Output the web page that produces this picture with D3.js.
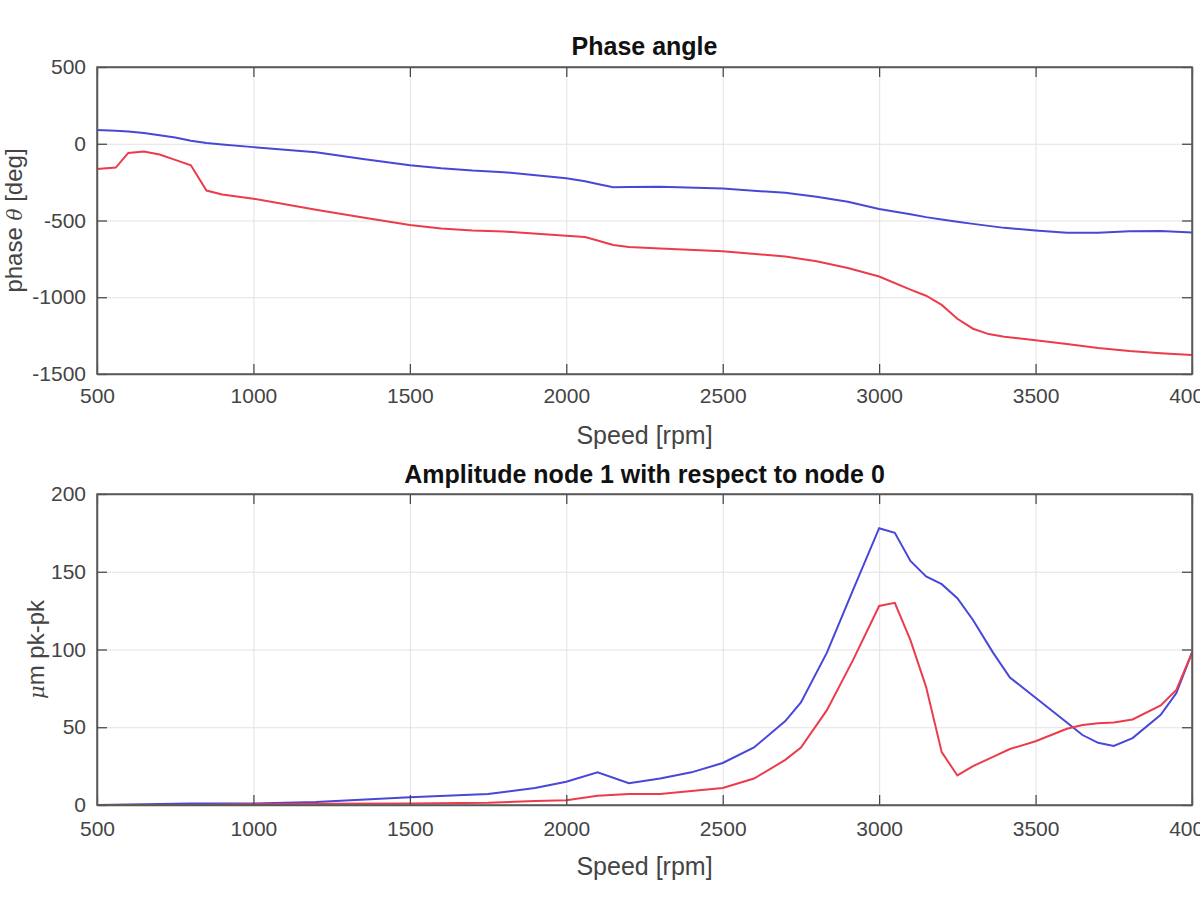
<!DOCTYPE html>
<html>
<head>
<meta charset="utf-8">
<script src="https://cdn.jsdelivr.net/npm/d3@7"></script>
<style>
  html, body { margin: 0; padding: 0; background: #fff; }
  svg { display: block; font-family: "Liberation Sans", Arial, Helvetica, sans-serif; }
  .tick text { fill: #444; font-size: 21px; }
</style>
</head>
<body>
<svg id="chart" width="1200" height="900"></svg>
<script>
// ---------- data ----------
const phaseRpm = [500, 560, 600, 650, 700, 750, 800, 850, 900, 1000, 1200, 1350, 1500, 1600, 1700, 1800, 2000, 2060, 2100, 2150, 2200, 2300, 2500, 2700, 2800, 2900, 3000, 3100, 3150, 3200, 3250, 3300, 3350, 3400, 3500, 3600, 3700, 3800, 3900, 4000];
const phaseBlue = [90, 85, 80, 70, 55, 40, 20, 5, -5, -22, -55, -100, -140, -160, -175, -185, -225, -245, -262, -284, -281, -280, -292, -320, -345, -378, -425, -460, -478, -493, -508, -522, -535, -548, -565, -580, -580, -570, -568, -578];
const phaseRed = [-165, -155, -60, -50, -70, -105, -140, -305, -330, -358, -430, -480, -530, -552, -565, -572, -600, -608, -630, -660, -672, -682, -700, -735, -765, -810, -865, -950, -990, -1050, -1140, -1205, -1240, -1258, -1280, -1305, -1330, -1350, -1365, -1377];

const ampRpm = [500, 800, 1000, 1200, 1500, 1750, 1900, 2000, 2100, 2200, 2300, 2400, 2500, 2600, 2700, 2750, 2833, 2916, 3000, 3050, 3100, 3150, 3200, 3250, 3300, 3364, 3418, 3500, 3600, 3650, 3700, 3750, 3810, 3900, 3950, 4000];
const ampBlue = [0, 1, 1, 2, 5, 7, 11, 15, 21, 14, 17, 21, 27, 37, 54, 66, 98, 138, 178, 175, 157, 147, 142, 133, 119, 98, 82, 69, 53, 45, 40, 38, 43, 58, 72, 98];
const ampRed = [0, 0, 0.5, 0.8, 1, 1.5, 2.5, 3, 6, 7, 7, 9, 11, 17, 29, 37, 61, 93, 128, 130, 106, 76, 34, 19, 25, 31, 36, 41, 49, 51.5, 52.5, 53, 55, 64, 74, 98];

const xTicks = [500, 1000, 1500, 2000, 2500, 3000, 3500, 4000];
const phaseTicks = [500, 0, -500, -1000, -1500];
const ampTicks = [0, 50, 100, 150, 200];

const BLUE = "#4848d8";
const RED = "#ec3c4c";

// ---------- drawing ----------
const svg = d3.select("#chart");
const L = 97, R = 1192;
const fmt = d => String(d);

function panel(cfg) {
  const x = d3.scaleLinear().domain([500, 4000]).range([L, R]);
  const y = d3.scaleLinear().domain(cfg.yDomain).range([cfg.bottom, cfg.top]);
  const g = svg.append("g");
  const h = cfg.bottom - cfg.top, w = R - L;

  // grid
  const grid = g.append("g");
  grid.append("g").attr("transform", `translate(0,${cfg.bottom})`)
    .call(d3.axisBottom(x).tickValues(xTicks).tickSize(-h).tickFormat(""));
  grid.append("g").attr("transform", `translate(${L},0)`)
    .call(d3.axisLeft(y).tickValues(cfg.yTicks).tickSize(-w).tickFormat(""));
  grid.selectAll(".domain").remove();
  grid.selectAll("line").attr("stroke", "#e2e2e2").attr("stroke-width", 1);

  // lines
  const line = d3.line().x((d, i) => x(cfg.rpm[i])).y(d => y(d));
  g.append("path").attr("d", line(cfg.blue)).attr("fill", "none").attr("stroke", BLUE).attr("stroke-width", 2);
  g.append("path").attr("d", line(cfg.red)).attr("fill", "none").attr("stroke", RED).attr("stroke-width", 2);

  // axes with inward ticks
  const axes = g.append("g");
  const tl = 10;
  const ax = axes.append("g").attr("transform", `translate(0,${cfg.bottom})`)
    .call(d3.axisBottom(x).tickValues(xTicks).tickSizeInner(-tl).tickSizeOuter(0).tickFormat(fmt));
  ax.selectAll("text").attr("y", cfg.xTickY).attr("dy", "0.71em");
  axes.append("g").attr("transform", `translate(0,${cfg.top})`)
    .call(d3.axisTop(x).tickValues(xTicks).tickSizeInner(-tl).tickSizeOuter(0).tickFormat(""));
  axes.append("g").attr("transform", `translate(${L},0)`)
    .call(d3.axisLeft(y).tickValues(cfg.yTicks).tickSizeInner(-tl).tickSizeOuter(0).tickPadding(11).tickFormat(fmt));
  axes.append("g").attr("transform", `translate(${R},0)`)
    .call(d3.axisRight(y).tickValues(cfg.yTicks).tickSizeInner(-tl).tickSizeOuter(0).tickFormat(""));
  axes.selectAll(".domain").attr("stroke", "#5a5a5a").attr("stroke-width", 1.5);
  axes.selectAll(".tick line").attr("stroke", "#404040").attr("stroke-width", 1.2);

  // box
  g.append("rect").attr("x", L).attr("y", cfg.top).attr("width", w).attr("height", h)
    .attr("fill", "none").attr("stroke", "#5a5a5a").attr("stroke-width", 1.5);

  // title
  g.append("text").attr("x", (L + R) / 2).attr("y", cfg.titleY)
    .attr("text-anchor", "middle").attr("font-size", 25).attr("font-weight", "bold").attr("fill", "#111")
    .text(cfg.title);
  // x label
  g.append("text").attr("x", (L + R) / 2).attr("y", cfg.bottom + 70)
    .attr("text-anchor", "middle").attr("font-size", 25).attr("fill", "#444")
    .text("Speed [rpm]");
  // y label
  const yl = g.append("text")
    .attr("transform", `translate(${cfg.ylabelX},${(cfg.top + cfg.bottom) / 2}) rotate(-90)`)
    .attr("text-anchor", "middle").attr("font-size", 24).attr("fill", "#444");
  cfg.ylabel(yl);
}

panel({
  top: 67, bottom: 374, yDomain: [-1500, 500], yTicks: phaseTicks,
  rpm: phaseRpm, blue: phaseBlue, red: phaseRed,
  title: "Phase angle", titleY: 55, xTickY: 14, ylabelX: 22,
  ylabel: t => {
    t.append("tspan").text("phase ");
    t.append("tspan").attr("font-style", "italic").attr("font-family", "'DejaVu Serif', serif").attr("font-size", 20).text("θ");
    t.append("tspan").text(" [deg]");
  }
});

panel({
  top: 494, bottom: 805, yDomain: [0, 200], yTicks: ampTicks,
  rpm: ampRpm, blue: ampBlue, red: ampRed,
  title: "Amplitude node 1 with respect to node 0", titleY: 483, xTickY: 16, ylabelX: 44,
  ylabel: t => {
    t.append("tspan").attr("font-style", "italic").attr("font-family", "'DejaVu Serif', serif").attr("font-size", 21).text("μ");
    t.append("tspan").text("m pk-pk");
  }
});
</script>
</body>
</html>
